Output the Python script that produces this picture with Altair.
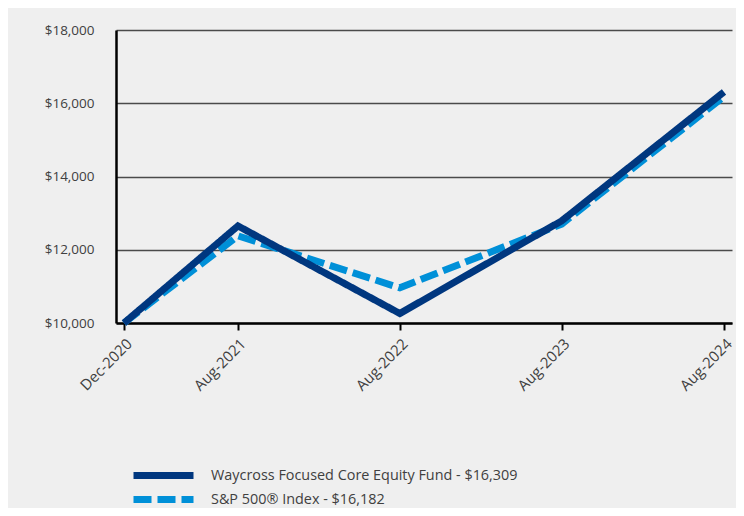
import altair as alt
import pandas as pd

dates = ["2020-12-17", "2021-08-31", "2022-08-31", "2023-08-31", "2024-08-31"]
fund_name = "Waycross Focused Core Equity Fund - $16,309"
index_name = "S&P 500® Index - $16,182"
fund_values = [10000, 12650, 10260, 12790, 16309]
index_values = [10000, 12380, 10960, 12700, 16182]

rows = []
for d, v in zip(dates, index_values):
    rows.append({"date": d, "value": v, "series": index_name, "order": 0})
for d, v in zip(dates, fund_values):
    rows.append({"date": d, "value": v, "series": fund_name, "order": 1})
df = pd.DataFrame(rows)

FONT = "Open Sans"
TXT = "#404040"

x_domain = [alt.DateTime(year=2020, month=11, date=29, utc=True),
            alt.DateTime(year=2024, month=9, date=18, utc=True)]
tick_vals = [alt.DateTime(year=2020, month=12, date=17, utc=True),
             alt.DateTime(year=2021, month=8, date=31, utc=True),
             alt.DateTime(year=2022, month=8, date=31, utc=True),
             alt.DateTime(year=2023, month=8, date=31, utc=True),
             alt.DateTime(year=2024, month=8, date=31, utc=True)]

chart = alt.Chart(df).mark_line(strokeWidth=7, strokeCap="butt", strokeJoin="miter").encode(
    x=alt.X("date:T", scale=alt.Scale(type="utc", domain=x_domain, nice=False),
            axis=alt.Axis(title=None, values=tick_vals,
                          labelExpr="utcFormat(datum.value, '%b-%Y')",
                          labelAngle=-45, labelAlign="right", labelBaseline="top",
                          labelPadding=6, tickSize=7, tickColor="#000", tickWidth=2,
                          domainColor="#000", domainWidth=2.5, grid=False,
                          labelFont=FONT, labelFontSize=15, labelColor=TXT)),
    y=alt.Y("value:Q", scale=alt.Scale(domain=[10000, 18000], nice=False, zero=False),
            axis=alt.Axis(title=None, values=[10000, 12000, 14000, 16000, 18000],
                          format="$,.0f", ticks=False, labelPadding=22,
                          domainColor="#000", domainWidth=2.5,
                          grid=True, gridColor="#4a4a4a", gridWidth=1.6,
                          labelFont=FONT, labelFontSize=13.5, labelColor=TXT)),
    color=alt.Color("series:N", sort=[fund_name, index_name],
                    scale=alt.Scale(domain=[fund_name, index_name], range=["#00377f", "#0090d8"]),
                    legend=alt.Legend(title=None, orient="none", legendX=39, legendY=437,
                                      direction="vertical", symbolType="M-6,0H6",
                                      symbolSize=100, symbolStrokeWidth=7,
                                      labelFont=FONT, labelFontSize=14.4, labelColor=TXT,
                                      labelLimit=600,
                                      labelOffset=39, rowPadding=-5, padding=0)),
    strokeDash=alt.StrokeDash("series:N", sort=[fund_name, index_name],
                              scale=alt.Scale(domain=[fund_name, index_name], range=[[1, 0], [18, 6]]),
                              legend=None),
    order=alt.Order("order:Q"),
    detail="series:N",
).properties(
    width=616, height=293,
    background="#efefef",
    autosize=alt.AutoSizeParams(type="none"),
    padding={"left": 108, "top": 22, "right": 4, "bottom": 185},
).configure_view(stroke=None)

chart.save("out.html", embed_options={"renderer": "svg", "actions": False})
